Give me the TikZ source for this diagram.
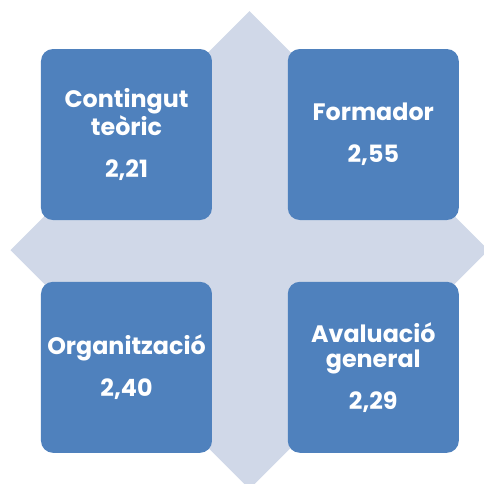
\documentclass[tikz,border=0pt]{standalone}
\usepackage{fontspec}
\setmainfont{Poppins}
\usetikzlibrary{positioning}
\definecolor{quadblue}{HTML}{4F81BD}
\definecolor{crossgrey}{HTML}{D0D8E8}

\begin{document}
\begin{tikzpicture}[node distance=37.5pt]
	\tikzstyle{quadrant} = [rectangle, rounded corners=6pt, minimum width=85.5pt, minimum height=85.5pt, text width=82pt, align=center, inner sep=0pt, fill=quadblue, text=white, font=\fontsize{11.9}{12.5}\selectfont\bfseries]
	\useasboundingbox (0,0) rectangle (242pt,-242pt);
	% background diamond behind the four boxes
	\begin{scope}
		\clip (0,0) rectangle (242pt,-242pt);
		\fill [crossgrey] (124.75pt,-5.5pt) -- (244.25pt,-125pt) -- (124.75pt,-244.5pt) -- (5.25pt,-125pt) -- cycle;
	\end{scope}
	\node (contingut) [quadrant] at (63.25pt,-67.25pt) {Contingut\\teòric\\[8.5pt]2,21};
	\node (formador) [quadrant, right=37.5pt of contingut] {Formador\\[8.5pt]2,55};
	\node (organitzacio) [quadrant, below=30.5pt of contingut] {Organització\\[8.5pt]2,40};
	\node (avaluacio) [quadrant, below=30.5pt of formador] {Avaluació\\general\\[8.5pt]2,29};
\end{tikzpicture}
\end{document}
